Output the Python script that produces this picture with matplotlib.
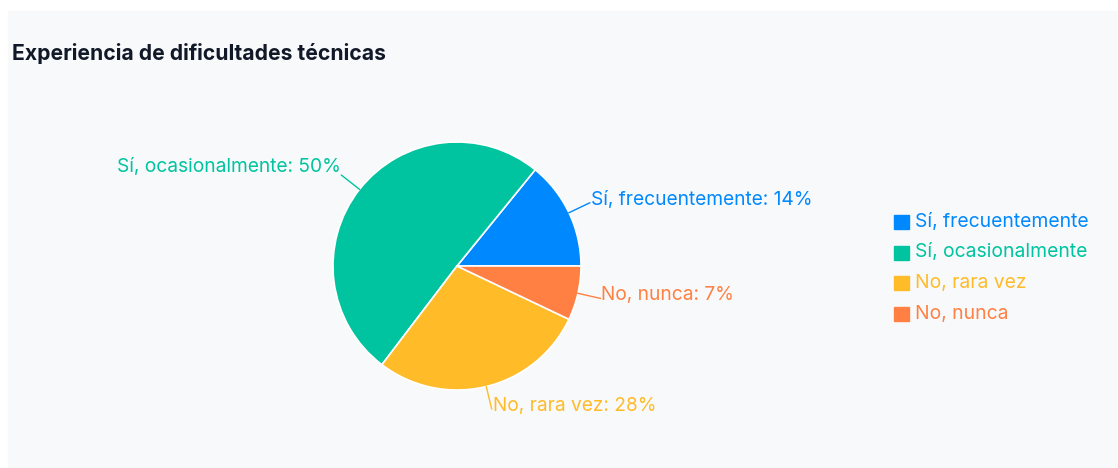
import numpy as np
import matplotlib.pyplot as plt
from matplotlib.patches import Rectangle

plt.rcParams["font.family"] = ["Inter", "DejaVu Sans"]

# data (percent shown in the chart)
categories = ["Sí, frecuentemente", "Sí, ocasionalmente", "No, rara vez", "No, nunca"]
percents = [14, 50, 28, 7]
colors = ["#0088FE", "#00C49F", "#FFBB28", "#FF8042"]
title = "Experiencia de dificultades técnicas"

W, H = 1118, 468
fig = plt.figure(figsize=(W / 100, H / 100), dpi=100)
ax = fig.add_axes([0, 0, 1, 1])

# panel background
ax.add_patch(Rectangle((8, 0), W - 8, H - 11, color="#f8f9fb", zorder=0))

cx, cy, r = 457, H - 266, 124
wedges, _ = ax.pie(percents, colors=colors, startangle=0, counterclock=True,
                   center=(cx, cy), radius=r, frame=True,
                   wedgeprops=dict(edgecolor="white", linewidth=1.2))
ax.set_xlim(0, W)
ax.set_ylim(0, H)
ax.set_aspect("equal")
ax.axis("off")

for w, cat, p, col in zip(wedges, categories, percents, colors):
    mid = np.deg2rad((w.theta1 + w.theta2) / 2)
    x0, y0 = cx + r * np.cos(mid), cy + r * np.sin(mid)
    x1, y1 = cx + (r + 23) * np.cos(mid), cy + (r + 23) * np.sin(mid)
    ax.plot([x0, x1], [y0, y1], color=col, lw=1)
    ha = "left" if x1 > cx else "right"
    dy = -2 if ha == "left" else 3
    ax.text(x1 + (1 if ha == "left" else -1), y1 + dy, f"{cat}: {p}%",
            color=col, ha=ha, va="baseline", fontsize=13.8)

fig.text(12 / W, 1 - 53 / H, title, fontsize=15.2, fontweight="bold",
         color="#111827", va="center", ha="left")

# legend
for i, (cat, col) in enumerate(zip(categories, colors)):
    yc = H - (222 + i * 30.5)
    ax.add_patch(Rectangle((894, yc - 7), 15, 14, color=col))
    ax.text(915, yc, cat, color=col, fontsize=13.9, va="center", ha="left")

fig.savefig("out.png", dpi=100)
